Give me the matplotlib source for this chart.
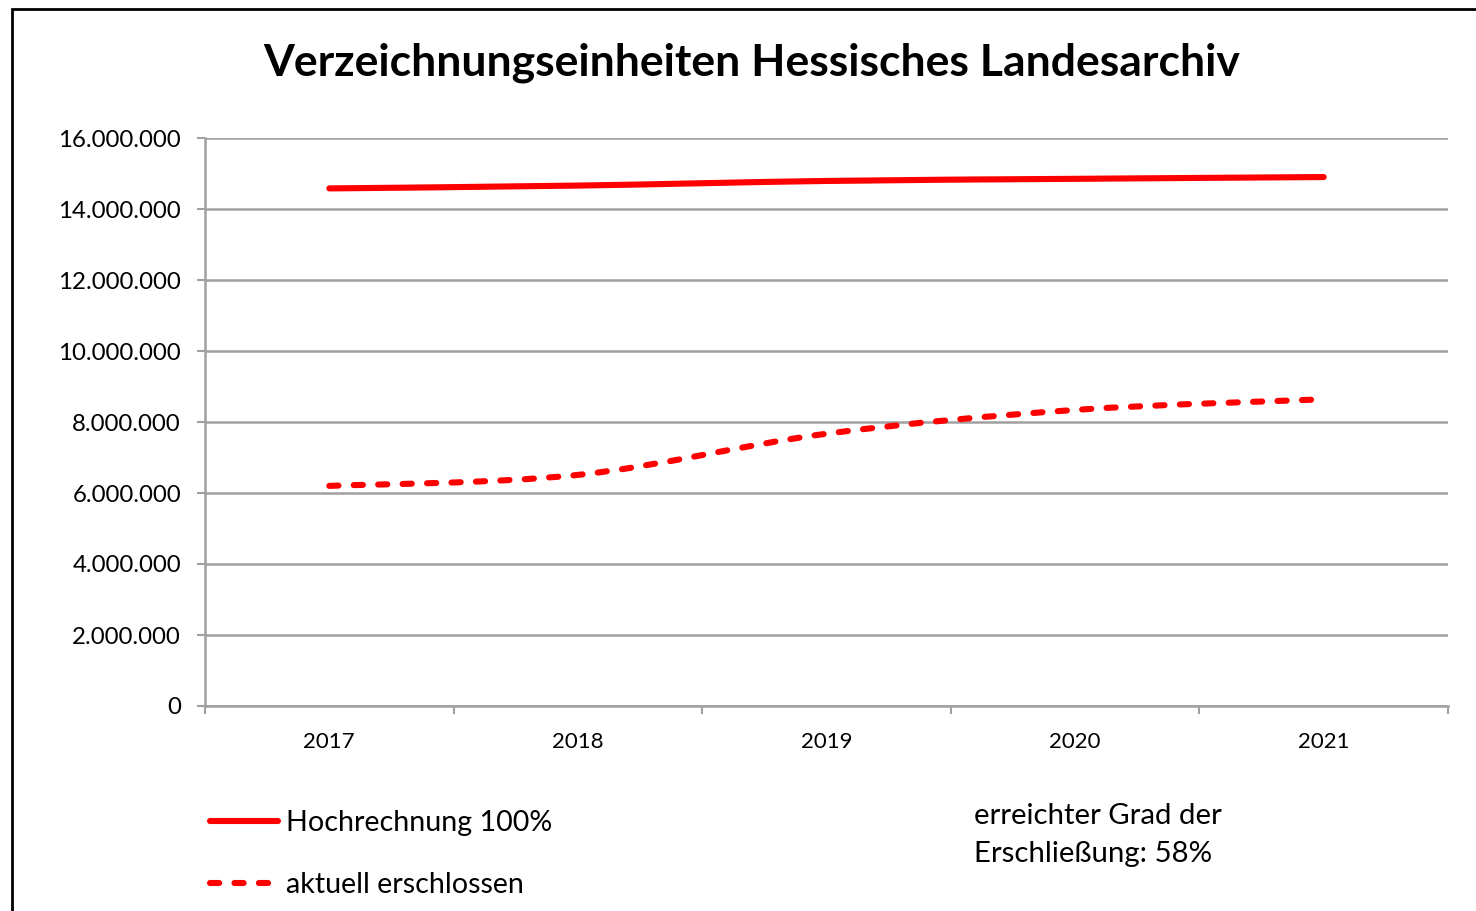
import matplotlib
matplotlib.use("Agg")
import matplotlib.pyplot as plt
from matplotlib.path import Path
from matplotlib.patches import PathPatch, Rectangle
from matplotlib.lines import Line2D
from matplotlib.ticker import FuncFormatter
import numpy as np

plt.rcParams['font.family'] = ['Lato', 'DejaVu Sans']

jahre = ['2017', '2018', '2019', '2020', '2021']
hochrechnung = [14580000, 14660000, 14790000, 14850000, 14900000]
erschlossen = [6200000, 6510000, 7670000, 8340000, 8640000]
serien = ['Hochrechnung 100%', 'aktuell erschlossen']
hinweis = 'erreichter Grad der\nErschließung: 58%'
titel = 'Verzeichnungseinheiten Hessisches Landesarchiv'

rot = '#FF0000'
grau = '#A0A0A0'
lw = 4.4


def glatter_pfad(xs, ys):
    # Excel-artige Glaettung: Catmull-Rom als Bezier
    p = np.column_stack([xs, ys]).astype(float)
    n = len(p)
    verts = [p[0]]
    codes = [Path.MOVETO]
    for i in range(n - 1):
        p0 = p[max(i - 1, 0)]
        p1 = p[i]
        p2 = p[i + 1]
        p3 = p[min(i + 2, n - 1)]
        c1 = p1 + (p2 - p0) / 6
        c2 = p2 - (p3 - p1) / 6
        verts += [c1, c2, p2]
        codes += [Path.CURVE4] * 3
    return Path(verts, codes)


fig = plt.figure(figsize=(14.76, 9.11), dpi=100)
ax = fig.add_axes([205 / 1476, 205 / 911, 1243 / 1476, 568 / 911])

x = np.arange(len(jahre))
ax.add_patch(PathPatch(glatter_pfad(x, hochrechnung), fill=False, color=rot,
                       lw=lw, capstyle='round', joinstyle='round', zorder=3))
ax.add_patch(PathPatch(glatter_pfad(x, erschlossen), fill=False, color=rot,
                       lw=lw, linestyle=(0, (1.5, 2.5)), capstyle='round',
                       joinstyle='round', zorder=3))

ax.set_xlim(-0.5, len(jahre) - 0.5)
ax.set_ylim(0, 16000000)
ax.set_yticks(np.arange(0, 16000001, 2000000))
ax.yaxis.set_major_formatter(FuncFormatter(lambda v, p: f'{int(v):,}'.replace(',', '.')))
ax.set_xticks(x)
ax.set_xticklabels(jahre)
ax.set_xticks(np.arange(-0.5, len(jahre), 1), minor=True)
ax.tick_params(axis='x', which='major', length=0, pad=19, labelsize=16, colors='black')
ax.tick_params(axis='x', which='minor', length=5.8, width=1.5, color=grau, direction='out')
ax.tick_params(axis='y', length=5.8, width=1.5, color=grau, pad=11.5, labelsize=17.3)

ax.grid(axis='y', color=grau, lw=1.8)
ax.set_axisbelow(True)
for s in ['top', 'right']:
    ax.spines[s].set_visible(False)
for s in ['left', 'bottom']:
    ax.spines[s].set_color(grau)
    ax.spines[s].set_linewidth(1.8)

fig.text(752 / 1476, 1 - 63 / 911, titel, ha='center', va='center',
         fontsize=32, fontweight='bold')

handles = [Line2D([], [], color=rot, lw=lw, solid_capstyle='round'),
           Line2D([], [], color=rot, lw=lw, linestyle=(0, (1.5, 2.5)),
                  dash_capstyle='round')]
fig.legend(handles, serien, loc='upper left',
           bbox_to_anchor=(184 / 1476, 1 - 784 / 911), frameon=False,
           fontsize=20.6, handlelength=2.4, handletextpad=0.25, labelspacing=1.25)

fig.text(974 / 1476, 1 - 835 / 911, hinweis, ha='left', va='center',
         fontsize=21.2, linespacing=1.6)

fig.patches.append(Rectangle((12 / 1476, -0.1), 1.2, 1.1 - 9 / 911, fill=False,
                             edgecolor='black', lw=2, transform=fig.transFigure))

fig.savefig('out.png', dpi=100)
